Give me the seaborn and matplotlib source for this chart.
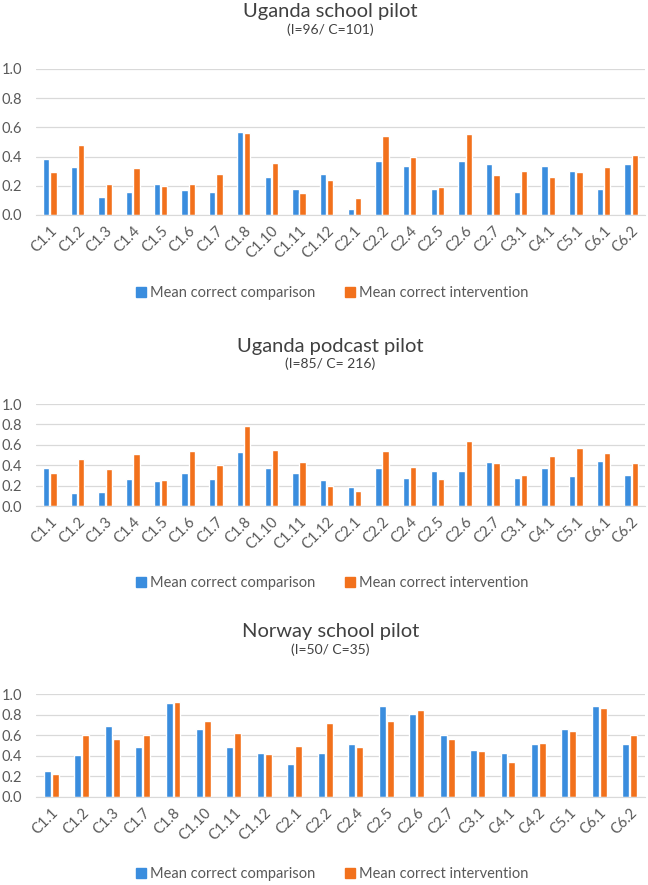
import matplotlib
matplotlib.use('Agg')
import matplotlib.pyplot as plt
import seaborn as sns
import pandas as pd
from matplotlib.patches import Patch

sns.set_style('white')
plt.rcParams['font.family'] = ['Lato', 'DejaVu Sans']

# 数据：每个试点的题目与两组平均正确率
items_ug_school = ['C1.1', 'C1.2', 'C1.3', 'C1.4', 'C1.5', 'C1.6', 'C1.7', 'C1.8', 'C1.10', 'C1.11', 'C1.12',
                   'C2.1', 'C2.2', 'C2.4', 'C2.5', 'C2.6', 'C2.7', 'C3.1', 'C4.1', 'C5.1', 'C6.1', 'C6.2']
comp_ug_school = [0.385, 0.328, 0.12, 0.16, 0.21, 0.17, 0.16, 0.567, 0.257, 0.178, 0.278,
                  0.041, 0.367, 0.339, 0.178, 0.367, 0.349, 0.16, 0.339, 0.298, 0.178, 0.349]
int_ug_school = [0.294, 0.48, 0.21, 0.323, 0.198, 0.21, 0.282, 0.565, 0.355, 0.148, 0.241,
                 0.114, 0.542, 0.396, 0.189, 0.554, 0.273, 0.303, 0.26, 0.294, 0.326, 0.408]

items_ug_podcast = items_ug_school
comp_ug_podcast = [0.373, 0.131, 0.141, 0.265, 0.248, 0.324, 0.265, 0.533, 0.373, 0.324, 0.252,
                   0.183, 0.369, 0.275, 0.343, 0.346, 0.428, 0.271, 0.369, 0.291, 0.444, 0.301]
int_ug_podcast = [0.327, 0.458, 0.363, 0.507, 0.258, 0.539, 0.399, 0.788, 0.552, 0.435, 0.196,
                  0.144, 0.539, 0.386, 0.268, 0.634, 0.422, 0.304, 0.493, 0.565, 0.516, 0.422]

items_no_school = ['C1.1', 'C1.2', 'C1.3', 'C1.7', 'C1.8', 'C1.10', 'C1.11', 'C1.12', 'C2.1', 'C2.2',
                   'C2.4', 'C2.5', 'C2.6', 'C2.7', 'C3.1', 'C4.1', 'C4.2', 'C5.1', 'C6.1', 'C6.2']
comp_no_school = [0.255, 0.403, 0.687, 0.487, 0.913, 0.658, 0.487, 0.429, 0.316, 0.429,
                  0.516, 0.887, 0.803, 0.6, 0.458, 0.429, 0.516, 0.658, 0.887, 0.516]
int_no_school = [0.223, 0.6, 0.561, 0.6, 0.919, 0.742, 0.619, 0.419, 0.5, 0.719,
                 0.481, 0.742, 0.842, 0.561, 0.442, 0.342, 0.523, 0.639, 0.865, 0.6]

titles = ['Uganda school pilot', 'Uganda podcast pilot', 'Norway school pilot']
subtitles = ['(I=96/ C=101)', '(I=85/ C= 216)', '(I=50/ C=35)']
groups = ['Mean correct comparison', 'Mean correct intervention']
y_ticks = [0.0, 0.2, 0.4, 0.6, 0.8, 1.0]

BLUE = '#3A8DDE'
ORANGE = '#F2711C'
GRID = '#D9D9D9'
TEXT = '#595959'

W, H = 648, 885
# 像素布局：(坐标轴上沿, 坐标轴下沿, 标题基线, 副标题基线, 图例中心)
layout = [
    (69, 215, 17, 34, 293),
    (404, 506, 352, 368, 583),
    (694, 797, 637, 654, 874),
]
AX_LEFT, AX_RIGHT = 36, 645

panels = [
    (items_ug_school, comp_ug_school, int_ug_school),
    (items_ug_podcast, comp_ug_podcast, int_ug_podcast),
    (items_no_school, comp_no_school, int_no_school),
]

fig = plt.figure(figsize=(W / 100, H / 100), dpi=100)

for i, (items, comp, inter) in enumerate(panels):
    top, bottom, t_y, s_y, leg_y = layout[i]
    ax = fig.add_axes([AX_LEFT / W, 1 - bottom / H, (AX_RIGHT - AX_LEFT) / W, (bottom - top) / H])

    df = pd.DataFrame({
        'item': items * 2,
        'group': [groups[0]] * len(items) + [groups[1]] * len(items),
        'value': comp + inter,
    })
    sns.barplot(data=df, x='item', y='value', hue='group', order=items, hue_order=groups,
                palette=[BLUE, ORANGE], width=0.52, gap=0.12, saturation=1,
                legend=False, ax=ax)

    ax.set_ylim(0, 1.0)
    ax.set_xlim(-0.5, len(items) - 0.5)
    ax.set_yticks(y_ticks)
    ax.set_yticklabels([f'{v:.1f}' for v in y_ticks])
    ax.set_xlabel('')
    ax.set_ylabel('')
    ax.yaxis.grid(True, color=GRID, lw=0.9)
    ax.set_axisbelow(True)
    for s in ['top', 'right', 'left']:
        ax.spines[s].set_visible(False)
    ax.spines['bottom'].set_color(GRID)
    ax.tick_params(axis='both', length=0, labelsize=10.5, colors=TEXT)
    ax.tick_params(axis='y', pad=10)
    ax.tick_params(axis='x', pad=6)
    for lab in ax.get_xticklabels():
        lab.set_rotation(45)
        lab.set_ha('right')
        lab.set_rotation_mode('anchor')

    fig.text(0.51, 1 - t_y / H, titles[i], ha='center', va='baseline', fontsize=14.5, color='#404040')
    fig.text(0.51, 1 - s_y / H, subtitles[i], ha='center', va='baseline', fontsize=10, color='#404040')

    handles = [Patch(color=BLUE), Patch(color=ORANGE)]
    ax.legend(handles, groups, loc='center', bbox_to_anchor=(332 / W, 1 - leg_y / H),
              bbox_transform=fig.transFigure, ncol=2, frameon=False, fontsize=10.5,
              handlelength=0.7, handleheight=0.7, handletextpad=0.3, columnspacing=2.0,
              labelcolor=TEXT)

fig.savefig('out.png', dpi=100)
